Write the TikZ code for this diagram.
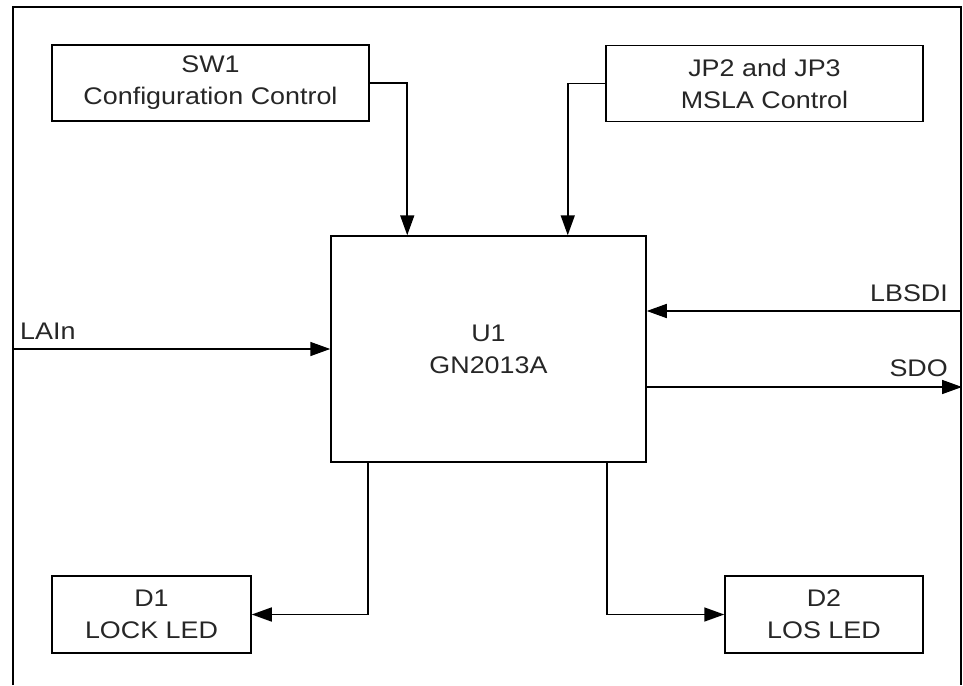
\documentclass[tikz,border=0pt]{standalone}
\usepackage{fontspec}
\setmainfont[FakeStretch=1.12]{Liberation Sans}
\usetikzlibrary{arrows.meta}
\begin{document}
\begin{tikzpicture}[x=1pt,y=-1pt,
  every node/.style={font=\fontsize{24}{32}\selectfont, text=black!85},
  blk/.style={draw, line width=1.5pt, inner sep=0pt, align=center},
  arr/.style={line width=1.6pt, -{Triangle[length=20pt,width=14pt]}},
  lbl/.style={inner sep=0pt}]
\useasboundingbox (0,0) rectangle (963,685);
\draw[line width=1.6pt] (13,685) -- (13,7) -- (961,7) -- (961,685);
\node[blk, minimum width=317pt, minimum height=76pt] (sw1) at (210.5,83) {SW1\\Configuration Control};
\node[blk, minimum width=317pt, minimum height=76pt] (jp) at (764.5,83.5) {JP2 and JP3\\MSLA Control};
\node[blk, minimum width=315pt, minimum height=226pt] (u1) at (488.5,349) {U1\\GN2013A};
\node[blk, minimum width=199pt, minimum height=77pt] (d1) at (151.5,614.5) {D1\\LOCK LED};
\node[blk, minimum width=198pt, minimum height=77pt] (d2) at (824,614.5) {D2\\LOS LED};
\coordinate (lain) at (13,349);
\coordinate (lbsdi) at (961,311);
\coordinate (sdo) at (962,387);
\draw[arr] (sw1.east) -| ([xshift=77pt]u1.north west);
\draw[arr] (jp.west) -| ([xshift=-79pt]u1.north east);
\draw[arr] ([xshift=38pt]u1.south west) |- (d1.east);
\draw[arr] ([xshift=-40pt]u1.south east) |- (d2.west);
\draw[arr] (lain) -- (lain -| u1.west);
\draw[arr] (lbsdi) -- (lbsdi -| u1.east);
\draw[arr] (sdo -| u1.east) -- (sdo);
\node[lbl, anchor=base west] (tlain) at (20,339) {LAIn};
\node[lbl, anchor=base east] (tlbsdi) at (948,301) {LBSDI};
\node[lbl, anchor=base east] (tsdo) at (948,376) {SDO};
\end{tikzpicture}
\end{document}
